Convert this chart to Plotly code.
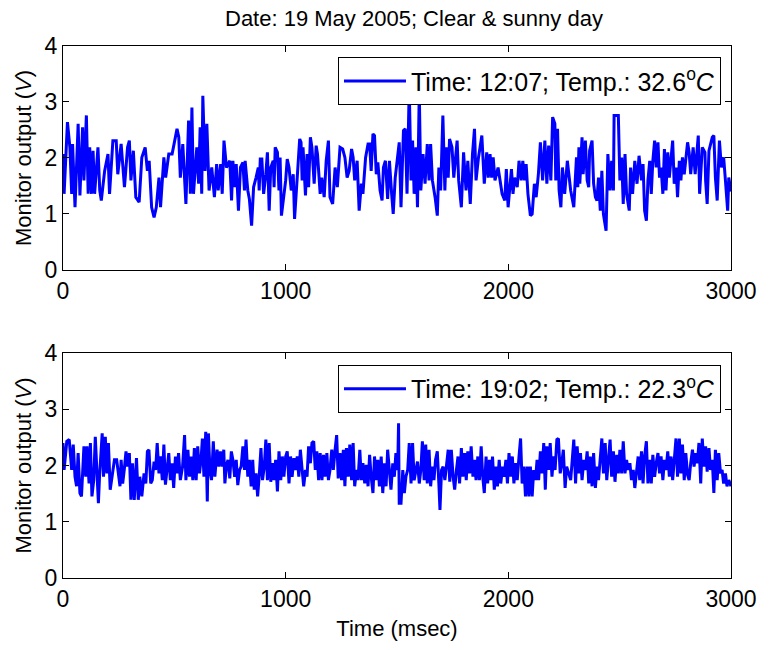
import plotly.graph_objects as go

# ---- Data ----
# Top panel: Time 12:07, Temp 32.6 C
time_noon = [0,5,20,31,39,43,54,68,76,88,94,105,113,120,128,135,142,157,165,172,187,202,209,224,239,246,261,276,290,298,305,316,327,342,354,369,379,387,398,409,419,431,438,453,461,475,490,498,512,520,527,538,546,552,564,572,579,586,601,609,616,623,628,638,646,656,668,680,690,697,708,715,723,734,749,757,
             763,771,778,788,797,808,815,818,830,837,847,856,867,877,881,886,893,901,911,918,926,933,944,948,953,963,970,975,981,992,1000,1007,1015,1025,1034,1040,1052,1063,1069,1074,1078,1089,1096,1103,1111,1118,1128,1137,1143,1155,1162,1173,1182,1192,1199,1211,1222,1232,1244,1256,1266,1276,1285,1296,1303,1310,1321,1330,1340,1347,1359,1370,1377,1384,1392,1399,1407,1414,1424,1433,1439,1448,1458,1466,1476,1483,1492,1503,1510,
             1518,1529,1537,1545,1555,1563,1570,1577,1585,1592,1600,1607,1617,1626,1636,1644,1651,1659,1671,1681,1688,1696,1706,1715,1721,1730,1736,1747,1755,1770,1777,1789,1799,1810,1818,1829,1839,1848,1855,1866,1881,1892,1903,1910,1918,1925,1932,1940,1954,1972,1984,1991,1999,2014,2021,2028,2040,2048,2058,2065,2073,2080,2088,2099,2107,2117,2125,2135,2144,2154,2164,2173,2181,2191,2199,2209,2213,2221,2228,2236,2243,2253,2265,
             2280,2294,2306,2312,2317,2321,2331,2336,2346,2354,2361,2365,2376,2383,2391,2398,2405,2413,2420,2427,2439,2447,2457,2464,2472,2475,2494,2501,2509,2516,2524,2531,2543,2549,2558,2568,2578,2587,2598,2605,2612,2620,2627,2635,2642,2649,2657,2664,2672,2679,2686,2694,2701,2708,2716,2723,2738,2745,2753,2760,2768,2775,2782,2790,2805,2812,2819,2830,2839,2853,2859,2871,2883,2886,2893,2901,2916,2923,2930,2938,2948,2957,2967,2975,2985,2990,3000]
volt_noon = [2.07,1.36,2.64,2.19,1.36,2.25,1.12,2.61,1.33,2.55,1.60,2.76,1.36,2.19,1.36,2.13,1.36,2.19,1.42,1.24,1.77,2.07,1.36,2.31,2.31,1.71,2.25,1.48,2.19,2.31,1.60,2.13,1.30,1.21,2.01,2.19,1.77,1.95,1.12,0.94,1.12,1.65,1.12,2.01,1.65,2.07,2.07,2.22,2.52,2.37,1.65,2.25,1.48,1.18,2.67,1.36,2.90,1.36,2.19,1.54,2.55,1.36,3.11,1.77,2.61,1.42,1.83,1.30,1.89,1.42,1.89,1.36,2.31,1.83,1.95,1.24,
             1.95,1.48,1.89,1.06,1.83,1.92,1.42,1.95,1.42,1.27,0.79,1.48,1.65,1.83,1.42,1.98,1.98,1.36,1.71,2.10,1.06,1.83,1.95,1.48,2.19,2.10,1.42,2.01,0.97,1.30,1.60,1.98,1.83,1.42,1.71,0.91,1.60,2.34,2.28,1.60,2.19,1.33,2.07,1.48,2.37,2.19,1.54,2.22,2.07,1.36,1.65,1.30,1.95,2.31,1.30,1.18,1.83,1.48,2.19,2.16,2.01,1.65,1.77,2.16,2.01,1.60,1.95,1.06,1.54,1.36,2.01,2.25,2.25,1.77,2.43,2.40,1.71,1.92,1.42,1.24,1.83,1.95,1.27,1.95,1.36,1.00,1.65,2.07,2.28,
             1.12,2.49,2.52,1.36,3.25,1.60,2.31,1.36,2.19,1.12,3.20,1.42,2.07,1.54,2.25,1.60,2.25,1.60,1.30,0.97,1.83,1.42,2.76,1.42,2.19,1.65,2.34,2.19,1.65,2.31,1.60,1.12,2.10,1.42,1.95,1.18,2.07,2.52,1.60,2.01,2.40,1.54,2.10,1.65,2.07,1.65,2.01,1.60,1.83,1.36,1.24,1.80,1.12,1.80,1.36,1.65,1.48,1.95,1.60,1.95,1.60,1.89,1.36,0.97,1.00,1.54,1.30,1.71,2.28,1.60,2.31,1.54,2.22,1.60,2.73,2.61,1.60,2.52,1.42,1.12,1.83,1.36,1.95,
             1.42,1.12,2.01,1.48,2.19,1.54,2.37,1.71,2.31,1.60,1.48,2.13,2.31,1.54,1.30,1.24,1.65,1.06,1.77,1.00,0.70,2.07,1.42,1.95,1.42,2.76,2.76,1.60,2.01,1.18,2.07,1.36,1.06,1.83,1.36,1.95,1.54,2.04,1.60,1.89,1.06,0.88,1.60,1.95,1.36,1.95,2.31,1.83,2.28,1.65,1.83,1.36,2.16,1.42,2.10,1.65,2.31,1.54,1.83,1.30,1.95,1.60,2.01,1.71,2.28,2.10,1.71,2.19,1.71,2.40,1.36,2.19,2.10,1.60,1.18,2.13,2.37,2.40,1.65,1.24,2.31,1.83,2.01,1.60,1.06,1.65,1.40]

# Bottom panel: Time 19:02, Temp 22.3 C
time_eve = [0,5,17,28,39,46,54,61,68,76,83,94,102,108,117,123,130,138,145,153,159,164,176,182,190,197,204,212,221,231,241,250,256,261,268,275,283,290,298,305,312,320,330,338,345,354,364,372,379,386,394,401,409,416,423,431,438,446,453,460,468,475,482,490,497,505,512,519,527,537,546,552,561,568,576,583,590,598,605,613,620,626,633,641,648,653,660,667,675,682,692,700,707,715,722,727,734,741,749,756,
            763,771,778,785,793,800,808,815,822,830,837,845,852,859,867,874,881,889,896,904,911,918,926,933,941,948,955,963,970,978,985,992,1000,1007,1015,1022,1029,1037,1044,1052,1059,1066,1074,1081,1089,1096,1103,1111,1118,1126,1133,1140,1148,1155,1163,1170,1177,1185,1192,1199,1207,1214,1222,1229,1236,1244,1251,1259,1266,1273,1281,1288,1296,1303,1310,1318,1325,1333,1340,1347,1355,1362,1370,1377,1384,1392,1399,1407,1414,1421,1429,1436,1444,1451,1458,1466,1473,1481,1488,1495,1503,1507,1510,
            1518,1526,1533,1540,1548,1555,1563,1570,1577,1585,1592,1600,1607,1614,1622,1629,1636,1644,1651,1659,1666,1673,1681,1688,1693,1700,1707,1715,1722,1730,1737,1744,1752,1759,1767,1774,1781,1789,1796,1804,1811,1818,1826,1833,1841,1848,1855,1863,1870,1878,1885,1892,1900,1907,1915,1922,1929,1937,1944,1951,1959,1966,1974,1981,1989,1996,2003,2011,2018,2025,2033,2040,2048,2055,2062,2070,2077,2085,2092,2099,2107,2114,2122,2129,2136,2144,2151,2159,2166,2173,2181,2188,2196,2203,2210,2218,2225,2233,2240,2247,2255,2262,
            2280,2287,2294,2302,2309,2317,2324,2331,2339,2346,2354,2361,2368,2376,2383,2391,2398,2405,2413,2420,2427,2435,2442,2450,2457,2464,2472,2479,2487,2494,2501,2509,2516,2524,2531,2538,2546,2553,2561,2568,2575,2583,2590,2598,2605,2612,2620,2627,2635,2642,2649,2657,2664,2672,2679,2686,2694,2701,2708,2716,2723,2731,2738,2745,2753,2760,2768,2775,2782,2790,2797,2805,2812,2819,2827,2834,2842,2849,2856,2864,2871,2879,2886,2893,2901,2908,2916,2923,2930,2938,2945,2953,2960,2967,2975,2982,2990,3000]
volt_eve = [2.40,1.92,2.43,2.46,1.92,2.37,1.80,1.63,2.22,1.51,1.45,2.34,1.80,2.34,1.68,2.40,1.45,1.74,2.51,1.86,1.33,1.80,2.57,1.80,2.51,1.86,2.40,1.57,1.80,2.10,2.10,1.74,1.63,2.10,1.68,1.92,2.25,1.98,2.22,1.39,2.04,1.39,2.13,1.39,1.80,1.45,1.86,1.68,2.25,2.28,1.68,1.74,2.07,1.92,2.40,1.86,2.16,1.74,2.37,1.66,1.92,2.22,1.74,2.04,1.60,2.16,1.86,2.22,1.74,1.98,2.54,1.74,2.28,1.80,2.16,1.74,2.31,1.74,2.34,1.86,2.10,2.48,1.80,2.60,1.36,2.57,1.92,1.74,2.43,1.80,2.28,1.98,2.25,1.98,2.28,1.68,2.01,2.10,1.77,2.25,
            2.10,1.80,2.10,1.65,1.92,1.98,2.34,1.92,2.46,1.80,2.10,1.63,2.10,1.57,1.86,1.45,1.80,2.31,1.74,1.98,2.46,1.74,2.40,1.71,2.04,1.74,2.10,1.54,2.25,1.74,2.16,1.80,2.16,2.25,1.68,2.16,1.80,2.13,1.92,2.16,1.80,2.28,1.92,1.63,1.92,1.80,2.34,2.04,2.40,2.43,1.92,2.25,1.74,2.22,1.74,2.19,1.80,2.22,1.74,1.92,2.28,1.92,2.28,2.54,1.77,2.22,1.74,2.28,1.63,2.31,1.80,2.37,1.74,2.40,1.63,1.92,1.74,2.28,1.74,2.04,1.68,2.01,1.63,2.19,1.80,1.51,2.16,1.74,2.10,1.63,2.16,1.51,2.04,1.63,2.28,1.80,1.57,2.04,1.80,2.22,1.92,2.75,1.33,
            1.33,1.92,1.51,1.80,1.92,2.40,1.68,2.40,1.74,1.92,2.07,1.68,1.92,2.43,1.74,2.37,1.68,2.28,1.63,1.98,1.74,2.10,2.25,1.68,1.21,1.92,1.98,1.74,2.04,2.28,1.71,2.28,1.80,1.57,1.92,2.16,1.68,2.31,1.80,2.22,1.74,2.25,1.86,2.34,1.80,2.10,1.74,2.16,1.74,2.34,1.80,1.51,2.16,1.68,2.10,1.74,2.16,1.57,1.98,1.63,2.10,1.68,1.98,1.80,2.10,1.68,2.22,1.80,2.16,1.68,2.04,1.74,2.16,2.48,1.68,1.98,1.45,1.98,1.45,1.98,1.45,1.92,1.74,2.10,1.74,2.25,1.86,2.40,1.57,2.34,1.92,2.40,1.80,2.16,1.92,2.46,2.48,1.86,2.04,2.28,1.60,1.98,
            1.74,2.16,2.46,1.68,2.34,1.86,2.22,1.74,2.10,1.92,2.25,1.68,2.16,1.63,2.22,1.60,1.98,1.74,2.10,2.48,1.86,2.40,1.74,2.10,2.46,1.80,2.25,1.71,2.19,1.86,2.28,1.86,2.43,1.86,2.10,1.92,2.04,1.74,1.92,1.60,1.86,2.16,1.74,2.25,1.68,2.16,2.43,1.68,2.10,1.68,2.19,1.80,2.04,2.22,1.86,2.16,1.74,2.10,1.92,2.25,1.80,2.16,1.74,2.10,2.48,1.80,2.48,1.86,2.37,1.74,2.22,1.83,1.74,2.04,2.28,1.98,2.22,2.04,2.40,1.68,2.48,1.98,2.34,1.89,2.31,1.92,2.10,1.51,2.28,1.74,2.22,1.86,1.92,1.68,1.86,1.63,1.74,1.63]

x_ticks = [0, 1000, 2000, 3000]
y_ticks = [0, 1, 2, 3, 4]
title_text = "Date: 19 May 2005; Clear & sunny day"
label_noon = "Time: 12:07; Temp.: 32.6<sup>o</sup><i>C</i>"
label_eve = "Time: 19:02; Temp.: 22.3<sup>o</sup><i>C</i>"
x_title = "Time (msec)"
y_title = "Monitor output (<i>V</i>)"

FONT = "Liberation Sans, Arial, Helvetica, sans-serif"
BLUE = "#0000FF"

fig = go.Figure()
fig.add_trace(go.Scatter(x=time_noon, y=volt_noon, mode="lines", name=label_noon,
                         line=dict(color=BLUE, width=3), xaxis="x", yaxis="y", legend="legend"))
fig.add_trace(go.Scatter(x=time_eve, y=volt_eve, mode="lines", name=label_eve,
                         line=dict(color=BLUE, width=3), xaxis="x2", yaxis="y2", legend="legend2"))

axis_common = dict(showline=True, linecolor="black", linewidth=1, mirror="ticks",
                   ticks="inside", ticklen=6, tickcolor="black", showgrid=False, zeroline=False,
                   tickfont=dict(family=FONT, size=23, color="black"))

legend_common = dict(xanchor="right", yanchor="top", bgcolor="white", itemwidth=62,
                     bordercolor="black", borderwidth=1, font=dict(family=FONT, size=25))

fig.update_layout(
    width=769, height=650,
    margin=dict(l=63, r=29, t=46, b=72),
    paper_bgcolor="white", plot_bgcolor="white",
    font=dict(family=FONT, size=22, color="black"),
    showlegend=True,
    xaxis=dict(domain=[0, 1], range=[0, 3000], tickvals=x_ticks, anchor="y", **axis_common),
    yaxis=dict(domain=[0.579, 1], range=[0, 4], tickvals=y_ticks, anchor="x",
               title=dict(text=y_title, font=dict(family=FONT, size=22), standoff=6), **axis_common),
    xaxis2=dict(domain=[0, 1], range=[0, 3000], tickvals=x_ticks, anchor="y2",
                title=dict(text=x_title, font=dict(family=FONT, size=22), standoff=10), **axis_common),
    yaxis2=dict(domain=[0, 0.423], range=[0, 4], tickvals=y_ticks, anchor="x2",
                title=dict(text=y_title, font=dict(family=FONT, size=22), standoff=6), **axis_common),
    legend=dict(x=0.985, y=0.979, **legend_common),
    legend2=dict(x=0.985, y=0.4004, **legend_common),
    annotations=[dict(text=title_text, xref="paper", yref="paper", x=0.525, y=1.0,
                      yshift=28, xanchor="center", yanchor="middle", showarrow=False,
                      font=dict(family=FONT, size=22, color="black"))],
)

fig.write_html("out.html")
